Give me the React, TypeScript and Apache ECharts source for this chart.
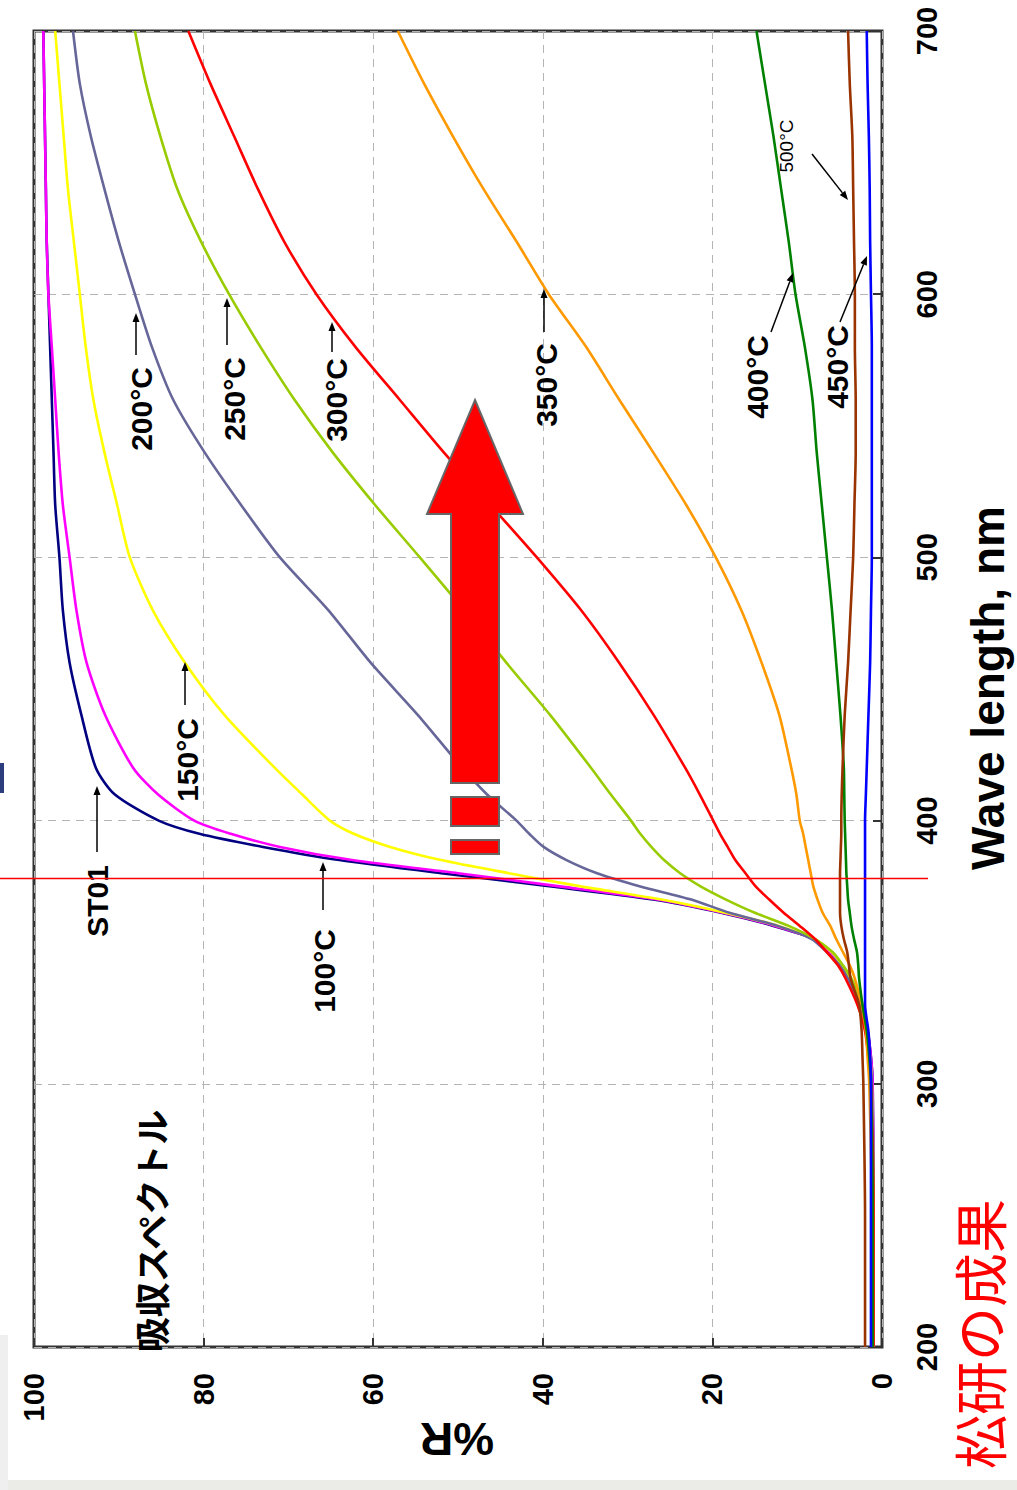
import React, { useEffect, useRef } from "react";
import * as echarts from "echarts";

// wavelength grid (nm)
const wavelengths = [200, 250, 300, 310, 320, 330, 340, 345, 350, 355, 360, 365, 370, 375, 380, 385, 390, 395, 400, 410, 420, 440, 460, 480, 500, 520, 540, 560, 580, 600, 620, 640, 660, 680, 700];

// %R values per sample
const st01 = [1.0, 1.0, 1.1, 1.3, 1.7, 2.6, 4.0, 4.8, 6.2, 8.0, 12.8, 19, 27, 39, 52, 64, 73, 80.5, 85.3, 90.5, 92.7, 94.4, 95.8, 96.6, 97.0, 97.5, 97.7, 97.9, 98.1, 98.3, 98.5, 98.6, 98.7, 98.8, 98.9];
const t100 = [1.0, 1.0, 1.1, 1.3, 1.7, 2.6, 4.0, 4.8, 6.2, 8.0, 12.6, 18.8, 26.5, 38, 50, 62.5, 71, 76.8, 81.1, 85.4, 88.3, 91.6, 93.8, 95.0, 95.8, 96.6, 97.1, 97.5, 97.9, 98.3, 98.5, 98.6, 98.7, 98.8, 98.9];
const t150 = [1.0, 1.0, 1.2, 1.4, 1.8, 2.6, 3.9, 4.7, 5.9, 8.0, 12.2, 18.5, 26, 35.5, 44, 52, 58, 62.3, 65.1, 68.4, 71.6, 77.5, 82.2, 86.0, 88.7, 90.2, 91.7, 93.0, 93.9, 94.6, 95.3, 96.0, 96.5, 97.0, 97.5];
const t200 = [1.0, 1.0, 1.2, 1.4, 1.8, 2.6, 4.0, 5.0, 6.5, 8.3, 12.3, 18, 22.5, 28.5, 33.6, 37.2, 39.9, 41.6, 43.1, 46.6, 49.5, 54.7, 60.3, 65.3, 71, 75.6, 79.9, 83.6, 86.1, 88.1, 90, 91.7, 93.3, 94.6, 95.4];
const t250 = [1.0, 1.0, 1.4, 1.6, 1.9, 2.3, 3.6, 4.6, 5.8, 7.9, 11.0, 15.0, 18.4, 21.4, 23.8, 25.7, 27.2, 28.5, 29.6, 32.0, 34.3, 39.1, 44.3, 49.3, 54.5, 59.8, 64.8, 69.3, 73.3, 77.0, 80.3, 83.1, 85.1, 86.8, 88.1];
const t300 = [1.0, 1.0, 1.3, 1.6, 2.0, 2.9, 4.3, 5.2, 6.5, 7.9, 9.7, 11.6, 13.3, 14.9, 16.1, 17.3, 18.2, 19.1, 19.9, 21.5, 23.2, 26.9, 31.0, 35.5, 40.7, 46.2, 51.7, 56.9, 62.1, 66.7, 70.5, 73.6, 76.4, 79.2, 81.8];
const t350 = [1.2, 1.2, 1.5, 1.7, 1.9, 2.4, 3.2, 3.8, 4.6, 5.4, 6.1, 7.0, 7.6, 8.1, 8.4, 8.7, 9.0, 9.3, 9.7, 10.1, 10.7, 12.1, 14.2, 16.6, 19.6, 23.1, 27.0, 31.0, 34.9, 39.3, 43.1, 47.0, 50.6, 54.0, 57.1];
const t400 = [1.1, 1.1, 1.3, 1.5, 1.8, 2.3, 2.7, 2.8, 2.95, 3.3, 3.6, 3.8, 4.0, 4.1, 4.2, 4.25, 4.3, 4.35, 4.4, 4.45, 4.5, 4.9, 5.4, 5.9, 6.5, 7.1, 7.7, 8.2, 9.1, 10.2, 11.0, 11.9, 12.8, 13.8, 14.8];
const t450 = [2.0, 2.0, 2.2, 2.3, 2.4, 2.7, 3.7, 3.9, 4.1, 4.5, 4.8, 4.95, 4.95, 4.95, 4.95, 4.9, 4.85, 4.8, 4.8, 4.75, 4.65, 4.4, 4.0, 3.7, 3.4, 3.25, 3.1, 3.1, 3.2, 3.2, 3.3, 3.4, 3.5, 3.8, 4.0];
const t500 = [1.3, 1.3, 1.3, 1.4, 1.6, 2.0, 2.0, 2.0, 2.0, 2.0, 2.0, 2.0, 2.0, 2.0, 2.0, 2.0, 2.0, 2.0, 2.0, 1.9, 1.8, 1.6, 1.4, 1.3, 1.2, 1.2, 1.2, 1.2, 1.2, 1.3, 1.4, 1.45, 1.55, 1.7, 1.8];

const seriesNames = ["ST01", "100°C", "150°C", "200°C", "250°C", "300°C", "350°C", "400°C", "450°C", "500°C"];
const seriesValues = [st01, t100, t150, t200, t250, t300, t350, t400, t450, t500];
const seriesColors = ["#000080", "#ff00ff", "#ffff00", "#666699", "#99cc00", "#ff0000", "#ff9900", "#008000", "#993300", "#0000ff"];

const rTicks = [0, 20, 40, 60, 80, 100];
const wlTicks = [200, 300, 400, 500, 600, 700];
const refWavelength = 378;

const LAT = "'Liberation Sans', Arial, sans-serif";
const CJK = "'Noto Sans CJK JP', sans-serif";

function arrow(x1: number, y1: number, x2: number, y2: number, w = 1.5) {
  const dx = x2 - x1;
  const dy = y2 - y1;
  const len = Math.sqrt(dx * dx + dy * dy);
  const ux = dx / len;
  const uy = dy / len;
  const nx = -uy;
  const ny = ux;
  const hl = 9;
  const hw = 3.5;
  const bx = x2 - ux * hl;
  const by = y2 - uy * hl;
  return [
    { type: "line", z: 50, shape: { x1, y1, x2: bx, y2: by }, style: { stroke: "#000", lineWidth: w } },
    {
      type: "polygon",
      z: 50,
      shape: { points: [[x2, y2], [bx + nx * hw, by + ny * hw], [bx - nx * hw, by - ny * hw]] },
      style: { fill: "#000" },
    },
  ];
}

function vtext(text: string, x: number, y: number, fontSize: number, opts: any = {}) {
  return {
    type: "text",
    z: 60,
    x,
    y,
    rotation: opts.rotation ?? Math.PI / 2,
    style: {
      text,
      fontSize,
      fontWeight: opts.weight ?? "bold",
      fontFamily: opts.family ?? LAT,
      fill: opts.color ?? "#000",
      align: "center",
      verticalAlign: "middle",
    },
  };
}

export default function App() {
  const ref = useRef<HTMLDivElement>(null);

  useEffect(() => {
    const chart = echarts.init(ref.current!, null, { renderer: "svg" });
    const axisLabelBase = { fontSize: 29, fontWeight: "bold", color: "#000", fontFamily: LAT };
    const split = { show: true, lineStyle: { color: "#b4b4b4", type: [8, 6], width: 1 } };
    const option: any = {
      animation: false,
      backgroundColor: "#ffffff",
      textStyle: { fontFamily: LAT },
      grid: { left: 34, top: 31, width: 848, height: 1316, show: true, borderColor: "#333", borderWidth: 3, backgroundColor: "transparent" },
      xAxis: {
        type: "value",
        min: 0,
        max: 100,
        interval: 20,
        inverse: true,
        position: "bottom",
        axisLine: { show: false },
        axisTick: { show: true, inside: true, length: 9, lineStyle: { color: "#333", width: 2 } },
        axisLabel: { ...axisLabelBase, rotate: 90, margin: 26, formatter: (v: number) => (rTicks.includes(v) ? String(v) : "") },
        splitLine: split,
      },
      yAxis: {
        type: "value",
        min: 200,
        max: 700,
        interval: 100,
        position: "right",
        axisLine: { show: false },
        axisTick: { show: true, inside: true, length: 9, lineStyle: { color: "#333", width: 2 } },
        axisLabel: { ...axisLabelBase, rotate: 90, margin: 30, formatter: (v: number) => (wlTicks.includes(v) ? String(v) : "") },
        splitLine: split,
      },
      series: seriesNames.map((name, i) => ({
        name,
        type: "line",
        showSymbol: false,
        symbol: "none",
        smooth: 0.25,
        z: 2 + i * 0.01,
        lineStyle: { color: seriesColors[i], width: 2.6 },
        data: wavelengths.map((w, k) => [seriesValues[i][k], w]),
      })),
    };
    chart.setOption(option);

    const yRef = chart.convertToPixel({ yAxisIndex: 0 }, refWavelength) as number;

    const graphic: any[] = [
      // slide background fragments
      { type: "rect", z: 1, shape: { x: 0, y: 1480, width: 1017, height: 10 }, style: { fill: "#ebebe8" } },
      { type: "rect", z: 1, shape: { x: 0, y: 1335, width: 8, height: 155 }, style: { fill: "#efefef" } },
      { type: "rect", z: 1, shape: { x: 0, y: 763, width: 4, height: 30 }, style: { fill: "#2b3d7d" } },
      // reference line
      { type: "line", z: 70, shape: { x1: 0, y1: yRef, x2: 928, y2: yRef }, style: { stroke: "#ff0000", lineWidth: 1.5 } },
      // big red arrow
      {
        type: "polygon",
        z: 80,
        shape: { points: [[475, 400], [523, 514], [499, 514], [499, 783], [451, 783], [451, 514], [427, 514]] },
        style: { fill: "#ff0000", stroke: "#666", lineWidth: 2 },
      },
      { type: "rect", z: 80, shape: { x: 451, y: 797, width: 48, height: 29 }, style: { fill: "#ff0000", stroke: "#666", lineWidth: 2 } },
      { type: "rect", z: 80, shape: { x: 451, y: 840, width: 48, height: 14 }, style: { fill: "#ff0000", stroke: "#666", lineWidth: 2 } },
      // labels
      vtext("ST01", 97.5, 901, 30),
      vtext("100°C", 324.5, 971, 30),
      vtext("150°C", 187.5, 760, 30),
      vtext("200°C", 141.5, 409, 30),
      vtext("250°C", 234.5, 399, 30),
      vtext("300°C", 336.5, 400, 30),
      vtext("350°C", 546.5, 385, 30),
      vtext("400°C", 757.5, 377, 30),
      vtext("450°C", 837.5, 367, 30),
      vtext("500°C", 786, 146, 19, { weight: "normal" }),
      ...arrow(97, 852, 97, 786),
      ...arrow(323, 910, 323, 862),
      ...arrow(185, 705, 185, 662),
      ...arrow(136, 355, 136, 313),
      ...arrow(227, 345, 227, 298),
      ...arrow(332, 352, 332, 322),
      ...arrow(544, 332, 544, 289),
      ...arrow(771, 332, 793, 273),
      ...arrow(840, 322, 867, 256),
      ...arrow(812, 154, 848, 200),
      vtext("吸収スペクトル", 150, 1231, 35, { family: CJK }),
      vtext("Wave length, nm", 988, 688, 46),
      vtext("%R", 457, 1439, 46, { rotation: Math.PI }),
      vtext("松研の成果", 978, 1334, 54, { family: CJK, weight: "normal", color: "#ff0000" }),
    ];
    chart.setOption({ graphic });

    return () => chart.dispose();
  }, []);

  return (
    <div
      ref={ref}
      style={{ position: "fixed", left: 0, top: 0, width: 1017, height: 1490, background: "#fff" }}
    />
  );
}
